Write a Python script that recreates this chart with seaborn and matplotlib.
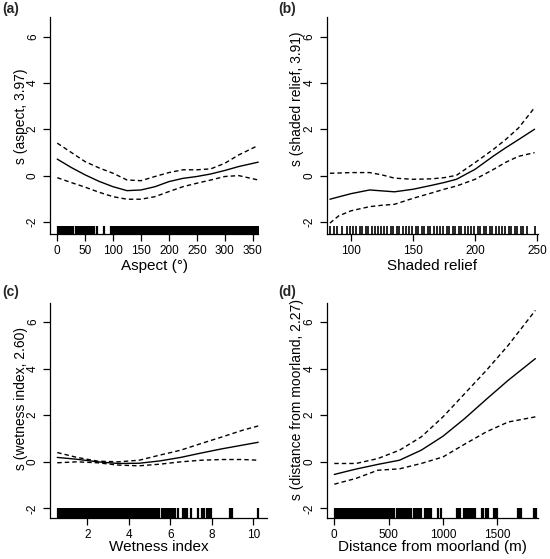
"""Four GAM partial-effect panels with rugs (aspect, relief, wetness, distance)."""

import matplotlib

matplotlib.use("Agg")
import matplotlib.pyplot as plt
import seaborn as sns

# ---- panel (a): aspect --------------------------------------------------
aspect_x = [0, 25, 50, 75, 100, 125, 150, 175, 200, 225, 250, 275, 300, 325, 360]
aspect_fit = [0.71, 0.35, 0.03, -0.25, -0.48, -0.65, -0.62, -0.48, -0.26, -0.12, -0.04, 0.07, 0.22, 0.39, 0.58]
aspect_hi = [1.40, 1.00, 0.60, 0.33, 0.10, -0.19, -0.22, -0.04, 0.13, 0.25, 0.25, 0.29, 0.53, 0.89, 1.30]
aspect_lo = [-0.09, -0.30, -0.50, -0.72, -0.91, -1.02, -1.02, -0.91, -0.69, -0.48, -0.33, -0.19, -0.04, 0.00, -0.19]
aspect_rug = [
    1, 3, 5, 8, 10, 13, 16, 18, 21, 24, 27, 29, 33, 36, 38, 41, 44, 47, 50, 53,
    56, 59, 62, 66, 71, 83, 96, 99, 102, 105, 108, 111, 114, 117, 119, 122, 125,
    128, 131, 134, 137, 140, 143, 145, 148, 150, 152, 155, 157, 160, 162, 165,
    167, 170, 172, 175, 177, 180, 182, 185, 187, 190, 192, 195, 197, 200, 202,
    205, 207, 210, 212, 217, 219, 222, 224, 227, 229, 232, 234, 237, 239, 242,
    244, 247, 249, 252, 254, 257, 259, 262, 264, 267, 269, 272, 274, 277, 279,
    282, 284, 287, 289, 292, 294, 297, 299, 302, 304, 307, 309, 312, 314, 317,
    319, 322, 324, 327, 329, 332, 334, 337, 339, 342, 344, 347, 349, 352, 354,
    357, 359,
]

# ---- panel (b): shaded relief -------------------------------------------
relief_x = [83, 90, 100, 115, 125, 135, 150, 165, 175, 185, 200, 215, 225, 235, 248]
relief_fit = [-1.02, -0.92, -0.78, -0.62, -0.66, -0.70, -0.59, -0.42, -0.30, -0.16, 0.27, 0.85, 1.21, 1.55, 2.00]
relief_hi = [0.10, 0.11, 0.13, 0.13, 0.03, -0.11, -0.16, -0.14, -0.09, 0.01, 0.56, 1.14, 1.57, 2.05, 2.93]
relief_lo = [-2.05, -1.74, -1.52, -1.34, -1.28, -1.24, -0.98, -0.75, -0.59, -0.45, -0.16, 0.27, 0.58, 0.83, 0.99]
relief_rug = [
    83, 86, 89, 93, 97, 99, 102, 104, 107, 109, 112, 114, 117, 119, 122, 124, 127,
    129, 132, 134, 137, 139, 142, 144, 147, 149, 152, 154, 157, 159, 162, 164,
    167, 169, 172, 174, 177, 179, 182, 184, 187, 189, 192, 194, 197, 199, 202,
    204, 207, 209, 212, 214, 217, 219, 222, 224, 227, 229, 232, 234, 237, 239,
    242, 248,
]

# ---- panel (c): wetness index -------------------------------------------
wet_x = [0.55, 1.5, 2.5, 3.5, 4.5, 5.5, 6.5, 7.5, 8.5, 9.5, 10.24]
wet_fit = [0.19, 0.11, 0.00, -0.07, -0.06, 0.04, 0.19, 0.38, 0.56, 0.72, 0.84]
wet_hi = [0.40, 0.19, 0.03, 0.00, 0.07, 0.29, 0.50, 0.79, 1.07, 1.36, 1.54]
wet_lo = [-0.04, 0.00, -0.04, -0.14, -0.17, -0.10, 0.00, 0.07, 0.10, 0.10, 0.07]
wet_rug = [
    0.58, 0.65, 0.72, 0.80, 0.88, 0.95, 1.03, 1.10, 1.18, 1.26, 1.33, 1.41, 1.49,
    1.56, 1.64, 1.72, 1.79, 1.87, 1.95, 2.02, 2.10, 2.18, 2.25, 2.33, 2.41, 2.48,
    2.56, 2.64, 2.71, 2.79, 2.87, 2.94, 3.02, 3.10, 3.17, 3.25, 3.33, 3.40, 3.48,
    3.56, 3.63, 3.71, 3.79, 3.86, 3.94, 4.02, 4.09, 4.17, 4.25, 4.32, 4.40, 4.48,
    4.55, 4.63, 4.70, 4.78, 4.86, 4.95, 5.05, 5.12, 5.20, 5.30, 5.38, 5.48, 5.58,
    5.66, 5.75, 5.85, 5.95, 6.05, 6.14, 6.25, 6.39, 6.59, 6.72, 6.83, 7.02, 7.35,
    7.51, 7.62, 7.78, 7.88, 7.94, 8.88, 8.99, 10.21,
]

# ---- panel (d): distance from moorland ----------------------------------
dist_x = [0, 200, 400, 600, 800, 1000, 1200, 1400, 1600, 1850]
dist_fit = [-0.54, -0.31, -0.11, 0.07, 0.50, 1.10, 1.86, 2.69, 3.50, 4.43]
dist_hi = [-0.07, -0.07, 0.14, 0.50, 1.07, 1.93, 2.93, 3.93, 5.00, 6.50]
dist_lo = [-0.96, -0.71, -0.36, -0.30, -0.07, 0.21, 0.76, 1.29, 1.71, 1.93]
dist_rug = [
    5, 18, 31, 44, 57, 70, 83, 96, 109, 122, 135, 148, 161, 174, 187, 200, 213,
    226, 239, 252, 265, 278, 291, 304, 317, 330, 343, 356, 369, 382, 395, 408,
    421, 434, 447, 460, 473, 486, 499, 512, 525, 538, 551, 575, 588, 601, 614,
    627, 640, 653, 666, 679, 692, 705, 735, 748, 760, 775, 790, 802, 835, 848,
    860, 872, 890, 958, 978, 1130, 1142, 1155, 1190, 1205, 1218, 1232, 1250,
    1262, 1275, 1290, 1355, 1370, 1395, 1410, 1470, 1485, 1500, 1690, 1702,
    1720, 1835, 1848, 1858,
]

sns.set_style("ticks")
plt.rcParams["font.family"] = ["Liberation Sans", "DejaVu Sans"]

W, H = 550, 559
fig = plt.figure(figsize=(W / 100, H / 100), dpi=100)

# pixel box (left, right, top, bottom), panel-letter corner, y-label anchor
# (x, y centre), x-label top, then data, limits, ticks, labels, rug look
panels = [
    ("(a)", (50, 258.5, 17.5, 234), (2, 2), (28, 116), 259,
     aspect_x, aspect_fit, aspect_hi, aspect_lo, aspect_rug,
     (-13, 360.5), (-2.52, 6.82), [0, 50, 100, 150, 200, 250, 300, 350],
     "Aspect (\u00b0)", "s (aspect, 3.97)", 0.036, 1.6),
    ("(b)", (326.7, 538.3, 17.5, 234), (278, 2), (304, 99), 259,
     relief_x, relief_fit, relief_hi, relief_lo, relief_rug,
     (80.4, 251), (-2.52, 6.82), [100, 150, 200, 250],
     "Shaded relief", "s (shaded relief, 3.91)", 0.036, 1.2),
    ("(c)", (50, 266.7, 302.7, 518), (2, 285), (28, 398), 540,
     wet_x, wet_fit, wet_hi, wet_lo, wet_rug,
     (0.2, 10.65), (-2.41, 6.83), [2, 4, 6, 8, 10],
     "Wetness index", "s (wetness index, 2.60)", 0.045, 1.6),
    ("(d)", (326.7, 538.3, 302.7, 518), (278, 285), (304, 399), 540,
     dist_x, dist_fit, dist_hi, dist_lo, dist_rug,
     (-70, 1877), (-2.41, 6.83), [0, 500, 1000, 1500],
     "Distance from moorland (m)", "s (distance from moorland, 2.27)", 0.045, 1.6),
]

dash = (0, (3.2, 2.2))

for (lab, (l, r, t, b), lab_xy, ylab_xy, xlab_y, xs, fit, hi, lo, rug,
     xlim, ylim, xticks, xlabel, ylabel, rug_h, rug_lw) in panels:
    ax = fig.add_axes([l / W, 1 - b / H, (r - l) / W, (b - t) / H])

    sns.lineplot(x=xs, y=fit, ax=ax, color="black", lw=1.0)
    sns.lineplot(x=xs, y=hi, ax=ax, color="black", lw=1.0, linestyle=dash)
    sns.lineplot(x=xs, y=lo, ax=ax, color="black", lw=1.0, linestyle=dash)
    sns.rugplot(x=rug, ax=ax, color="black", linewidth=rug_lw, height=rug_h,
                expand_margins=False)

    ax.set_xlim(*xlim)
    ax.set_ylim(*ylim)
    ax.set_xticks(xticks)
    ax.set_yticks([-2, 0, 2, 4, 6])
    ax.set_xticklabels([str(v) for v in xticks])
    ax.set_yticklabels(["-2", "0", "2", "4", "6"])

    sns.despine(ax=ax)
    for side in ("left", "bottom"):
        ax.spines[side].set_color("black")
        ax.spines[side].set_linewidth(0.9)
    ax.tick_params(direction="out", length=5, width=0.9, color="black",
                   labelsize=8.5, labelcolor="black")
    ax.tick_params(axis="x", pad=3.2)
    ax.tick_params(axis="y", pad=3)
    for tl in ax.get_yticklabels():
        tl.set_rotation(90)
        tl.set_ha("right")
        tl.set_va("center")

    ax.set_xlabel(xlabel, fontsize=11, color="black")
    ax.set_ylabel(ylabel, fontsize=10, color="black")
    ax.xaxis.set_label_coords(0.5, (b - xlab_y) / (b - t))
    ax.yaxis.set_label_coords((ylab_xy[0] - l) / (r - l),
                              (b - ylab_xy[1]) / (b - t))

    fig.text(lab_xy[0] / W, 1 - lab_xy[1] / H, lab,
             fontsize=10, fontweight="bold", ha="left", va="top")

fig.savefig("out.png", dpi=100)
plt.close(fig)
